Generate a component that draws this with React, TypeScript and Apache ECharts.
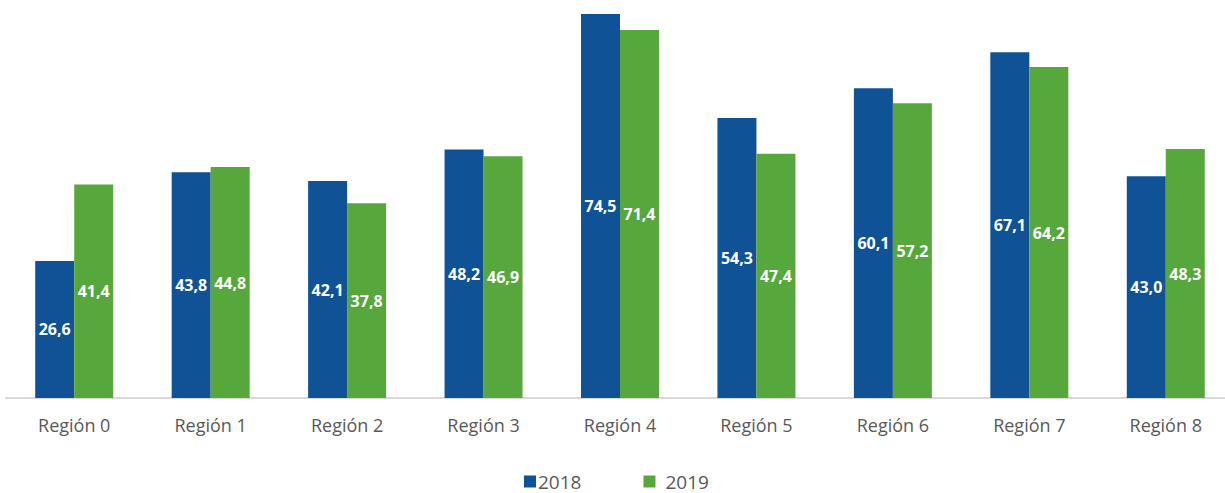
import React, { useEffect, useRef } from "react";
import * as echarts from "echarts";

const categories = ["Región 0", "Región 1", "Región 2", "Región 3", "Región 4", "Región 5", "Región 6", "Región 7", "Región 8"];
const series2018 = [26.6, 43.8, 42.1, 48.2, 74.5, 54.3, 60.1, 67.1, 43.0];
const series2019 = [41.4, 44.8, 37.8, 46.9, 71.4, 47.4, 57.2, 64.2, 48.3];
const seriesNames = ["2018", "2019"];

const fmt = (p: any) => Number(p.value).toFixed(1).replace(".", ",");

export default function App() {
  const ref = useRef<HTMLDivElement>(null);
  useEffect(() => {
    if (!ref.current) return;
    const chart = echarts.init(ref.current, undefined, { renderer: "svg" });
    const label = {
      show: true,
      position: "inside" as const,
      color: "#ffffff",
      fontWeight: "bold" as const,
      fontSize: 16,
      fontFamily: "Open Sans",
      formatter: fmt,
    };
    chart.setOption({
      animation: false,
      textStyle: { fontFamily: "Open Sans" },
      grid: { left: 6, right: -9, top: 14, bottom: 95, containLabel: false, outerBoundsMode: "none" },
      legend: {
        data: [
          { name: seriesNames[0], textStyle: { padding: [0, 0, 0, -3] } },
          { name: seriesNames[1], textStyle: { padding: [0, 0, 0, 5] } },
        ],
        top: 472,
        left: 524,
        padding: 0,
        itemWidth: 12,
        itemHeight: 12,
        itemGap: 62,
        icon: "rect",
        textStyle: { fontSize: 19, color: "#595959", fontFamily: "Open Sans" },
      },
      xAxis: {
        type: "category",
        data: categories,
        axisLine: { show: true, lineStyle: { color: "#d9d9d9", width: 2 } },
        axisTick: { show: false },
        axisLabel: { color: "#595959", fontSize: 18, margin: 18, fontFamily: "Open Sans" },
      },
      yAxis: {
        type: "value",
        min: 0,
        max: 74.5,
        show: false,
        splitLine: { show: false },
      },
      series: [
        {
          name: seriesNames[0],
          type: "bar",
          data: series2018,
          barWidth: 39,
          barGap: "0%",
          itemStyle: { color: "#0F5296" },
          label,
        },
        {
          name: seriesNames[1],
          type: "bar",
          data: series2019,
          barWidth: 39,
          barGap: "0%",
          itemStyle: { color: "#57A83C" },
          label,
        },
      ],
    });
    return () => chart.dispose();
  }, []);
  return <div ref={ref} style={{ position: "fixed", left: 0, top: 0, width: 1225, height: 493, background: "#fff" }} />;
}
